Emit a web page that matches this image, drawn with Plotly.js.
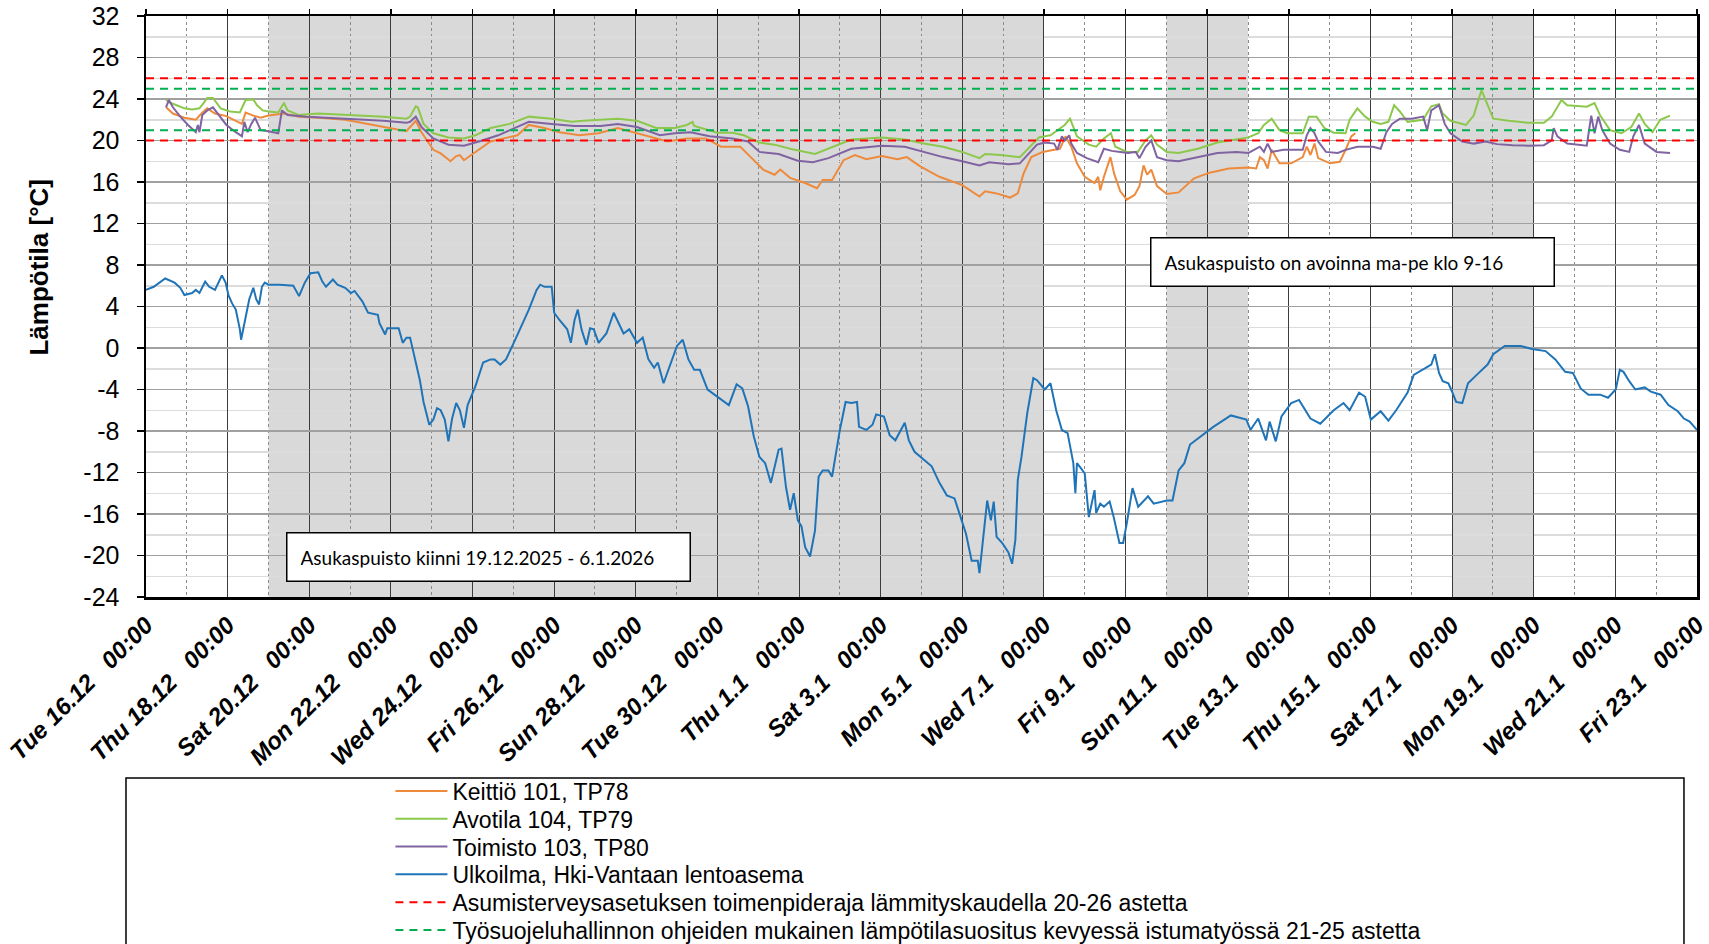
<!DOCTYPE html>
<html>
<head>
<meta charset="utf-8">
<script src="https://cdn.plot.ly/plotly-3.0.1.min.js"></script>
<style>
html,body{margin:0;padding:0;background:#ffffff;}
#chart{width:1709px;height:944px;}
</style>
</head>
<body>
<div id="chart"></div>
<script>
// ---------------- DATA ----------------
const startDate = '2025-12-16';
const endDate = '2026-01-23';
// closed / weekend periods (shaded)
const closedStart = ['2025-12-19', '2026-01-10', '2026-01-17'];
const closedEnd   = ['2026-01-07', '2026-01-12', '2026-01-19'];

const seriesNames = [
  'Keittiö 101, TP78',
  'Avotila 104, TP79',
  'Toimisto 103, TP80',
  'Ulkoilma, Hki-Vantaan lentoasema',
  'Asumisterveysasetuksen toimenpideraja lämmityskaudella 20-26 astetta',
  'Työsuojeluhallinnon ohjeiden mukainen lämpötilasuositus kevyessä istumatyössä 21-25 astetta'
];

// y-axis tick labels (hyphen minus as in the original)
const yTickVals = [-24, -20, -16, -12, -8, -4, 0, 4, 8, 12, 16, 20, 24, 28, 32];
const yTickText = ['-24', '-20', '-16', '-12', '-8', '-4', '0', '4', '8', '12', '16', '20', '24', '28', '32'];

// time = days since Tue 16.12.2025 00:00
const keittioDay = [0.49,0.66,0.94,1.22,1.36,1.5,1.69,1.97,2.25,2.35,2.44,2.63,2.81,3.0,3.38,3.75,4.22,4.88,5.44,5.82,6.38,6.61,6.75,7.04,7.22,7.46,7.6,7.69,7.79,8.02,8.44,9.1,9.38,9.76,10.13,10.62,11.09,11.56,11.93,12.31,12.78,13.25,13.72,14.09,14.56,14.84,15.12,15.4,15.54,15.78,16.15,16.44,16.58,16.81,17.09,17.37,17.65,18.03,18.41,18.64,18.97,19.44,20.0,20.42,20.56,20.84,21.17,21.36,21.5,21.69,21.97,22.25,22.39,22.53,22.67,22.81,23.0,23.24,23.33,23.38,23.47,23.63,23.72,23.87,24.03,24.22,24.34,24.44,24.53,24.63,24.77,25.01,25.3,25.68,26.06,26.53,27.01,27.2,27.29,27.39,27.48,27.58,27.77,28.06,28.34,28.44,28.53,28.63,28.72,29.01,29.25,29.39,29.53,29.63];
const keittioTemp = [23.2,22.6,22.2,22.0,22.6,23.1,22.6,22.35,21.8,21.6,22.7,22.4,22.2,22.4,22.6,22.3,22.2,22.0,21.6,21.3,20.9,21.9,20.8,19.1,18.75,18.0,18.5,18.6,18.1,18.75,19.9,20.5,21.5,21.2,20.8,20.5,20.7,21.2,20.8,20.4,19.9,20.2,20.2,19.4,19.4,18.3,17.2,16.7,17.2,16.4,15.9,15.4,16.2,16.2,18.1,18.6,18.2,18.5,18.2,18.4,17.5,16.5,15.7,14.6,15.1,14.9,14.5,14.9,16.8,18.4,18.9,19.1,19.2,20.4,19.4,17.8,16.5,15.9,16.5,15.2,16.5,18.4,16.8,15.1,14.3,14.75,15.6,17.6,16.7,17.2,15.6,14.85,15.0,16.35,16.9,17.3,17.4,17.3,18.4,18.1,17.3,19.1,17.8,17.8,18.4,19.4,18.6,19.7,18.3,17.8,17.95,19.1,20.4,20.7];

const avotilaDay = [0.49,0.56,0.75,0.94,1.13,1.31,1.41,1.5,1.64,1.74,1.83,2.06,2.3,2.44,2.63,2.72,2.86,3.0,3.24,3.33,3.38,3.47,3.75,4.22,4.88,5.82,6.38,6.47,6.61,6.66,6.8,7.04,7.41,7.79,8.07,8.44,8.91,9.38,9.94,10.43,10.71,11.56,12.03,12.5,12.96,13.25,13.39,13.43,14.0,14.37,14.65,15.03,15.4,15.78,16.39,16.72,17.28,18.03,18.59,19.06,19.53,20.0,20.42,20.56,20.94,21.41,21.59,21.88,22.16,22.35,22.51,22.64,22.81,23.1,23.28,23.47,23.64,23.75,24.03,24.3,24.49,24.63,24.77,25.01,25.3,25.77,26.25,27.01,27.25,27.39,27.58,27.77,27.96,28.34,28.49,28.68,28.87,29.1,29.39,29.49,29.68,29.87,30.06,30.25,30.44,30.58,30.72,30.91,31.29,31.49,31.68,31.77,31.96,32.34,32.53,32.72,32.82,33.01,33.39,33.87,34.25,34.44,34.68,34.82,35.3,35.49,35.63,35.87,36.15,36.39,36.58,36.72,36.91,37.1,37.34];
const avotilaTemp = [23.95,23.7,23.4,23.1,23.0,23.1,23.6,24.1,24.1,23.6,23.1,22.8,22.7,23.9,23.95,23.4,22.9,22.8,22.7,23.3,23.6,22.9,22.45,22.6,22.5,22.3,22.1,22.3,23.3,23.2,21.6,20.7,20.3,20.2,20.5,21.2,21.6,22.3,22.1,21.8,21.9,22.1,21.9,21.2,21.2,21.5,21.8,21.4,20.75,20.75,20.5,19.8,19.6,19.2,18.7,19.2,20.1,20.3,20.1,19.7,19.4,18.9,18.3,18.7,18.6,18.4,19.1,20.3,20.5,21.0,21.5,22.1,20.4,19.6,19.4,20.2,20.7,19.4,18.9,18.9,20.0,20.5,19.6,18.9,18.8,19.2,19.8,20.3,20.7,21.5,22.1,21.0,20.7,20.7,22.3,22.3,21.2,20.75,20.7,22.0,23.1,22.3,21.8,21.6,21.8,23.4,22.8,21.8,22.0,23.3,23.5,22.6,21.9,21.5,22.4,24.85,23.9,22.1,21.9,21.7,21.7,22.3,23.9,23.4,23.25,23.6,22.4,21.0,20.7,21.3,22.6,21.6,20.8,22.0,22.4];

const toimistoDay = [0.49,0.56,0.66,0.84,1.03,1.22,1.27,1.31,1.38,1.5,1.64,1.78,1.97,2.2,2.35,2.41,2.49,2.58,2.67,2.81,3.0,3.24,3.33,3.47,3.94,4.88,5.82,6.38,6.47,6.61,6.75,7.04,7.41,7.79,8.16,8.63,9.38,9.94,10.5,11.14,11.56,12.03,12.59,12.96,13.34,13.81,14.37,14.75,15.03,15.5,15.97,16.34,16.72,17.28,18.03,18.59,19.06,19.53,20.0,20.42,20.66,21.13,21.41,21.59,21.83,22.02,22.25,22.33,22.44,22.51,22.62,22.67,22.81,23.05,23.33,23.47,23.66,23.87,24.06,24.25,24.34,24.49,24.63,24.77,25.01,25.3,25.77,26.25,26.72,27.01,27.29,27.39,27.48,27.58,27.87,28.34,28.44,28.53,28.63,28.72,28.91,29.2,29.39,29.68,30.06,30.25,30.39,30.53,30.72,31.01,31.29,31.39,31.49,31.68,31.82,31.96,32.25,32.53,32.82,33.1,33.48,33.87,34.25,34.44,34.49,34.58,34.82,35.3,35.41,35.49,35.58,35.68,35.87,36.11,36.34,36.44,36.58,36.72,37.01,37.34];
const toimistoTemp = [23.2,23.9,23.2,22.3,21.5,20.8,21.5,20.8,22.45,22.9,23.2,22.45,21.5,20.8,20.4,21.8,20.8,21.6,22.2,21.0,20.9,20.7,22.9,22.45,22.3,22.1,21.9,21.7,21.8,22.3,21.3,20.2,19.6,19.5,19.9,20.5,21.8,21.6,21.4,21.4,21.6,21.3,20.5,20.7,20.8,20.4,20.2,19.9,18.9,18.7,18.05,17.9,18.3,19.2,19.5,19.4,18.9,18.4,18.0,17.6,17.9,17.7,17.8,18.6,19.6,19.8,19.7,19.1,20.4,20.0,20.5,19.7,18.8,18.3,17.9,19.2,19.0,18.9,18.8,18.9,18.3,19.4,20.0,18.4,18.1,18.0,18.4,18.8,18.9,18.8,19.4,18.9,19.7,18.9,19.1,19.1,20.5,21.2,20.7,19.9,18.9,18.8,19.1,19.4,19.4,19.2,20.8,21.6,22.1,22.1,22.3,21.0,22.9,23.4,21.6,20.7,19.9,19.7,19.9,19.65,19.55,19.5,19.55,20.0,21.2,20.4,19.7,19.5,22.4,20.7,22.3,21.0,19.7,19.1,18.9,20.4,21.5,19.7,18.9,18.8];

const ulkoilmaDay = [0,0.19,0.47,0.7,0.84,0.94,1.13,1.22,1.31,1.45,1.55,1.69,1.86,1.95,2.02,2.11,2.2,2.3,2.33,2.39,2.53,2.63,2.7,2.77,2.84,2.91,3.0,3.28,3.61,3.75,3.89,4.03,4.22,4.32,4.41,4.58,4.69,4.88,5.02,5.11,5.3,5.44,5.68,5.72,5.86,5.91,6.19,6.29,6.38,6.47,6.61,6.71,6.8,6.94,7.04,7.13,7.22,7.32,7.41,7.5,7.6,7.69,7.79,7.88,8.07,8.26,8.44,8.54,8.68,8.82,9.01,9.38,9.57,9.66,9.76,9.94,10.0,10.13,10.32,10.41,10.5,10.58,10.67,10.79,10.88,10.97,11.09,11.28,11.46,11.7,11.84,12.03,12.17,12.31,12.45,12.54,12.68,12.87,13.01,13.15,13.29,13.43,13.57,13.76,13.99,14.28,14.47,14.61,14.75,14.89,15.03,15.17,15.31,15.4,15.5,15.57,15.68,15.78,15.87,15.97,16.06,16.15,16.27,16.39,16.48,16.58,16.72,16.81,17.0,17.14,17.28,17.42,17.47,17.65,17.8,17.89,18.08,18.22,18.36,18.59,18.69,18.83,19.02,19.25,19.44,19.62,19.81,19.95,20.09,20.23,20.38,20.42,20.47,20.61,20.7,20.77,20.84,20.98,21.13,21.22,21.3,21.36,21.45,21.59,21.74,21.83,22.02,22.16,22.3,22.44,22.58,22.72,22.77,22.81,22.91,23.0,23.1,23.24,23.28,23.38,23.47,23.61,23.71,23.85,23.94,24.03,24.17,24.31,24.55,24.69,25.01,25.15,25.3,25.44,25.58,25.87,26.15,26.58,26.96,27.06,27.25,27.44,27.53,27.68,27.82,28.06,28.25,28.53,28.77,29.1,29.34,29.49,29.72,29.87,30.01,30.25,30.44,30.63,30.91,31.06,31.39,31.49,31.58,31.68,31.77,31.91,32.01,32.1,32.25,32.39,32.68,32.87,33.01,33.29,33.68,33.96,34.29,34.53,34.77,34.96,35.15,35.34,35.63,35.82,36.01,36.11,36.2,36.34,36.49,36.72,36.87,37.11,37.3,37.53,37.68,37.82,38.0];
const ulkoilmaTemp = [5.6,5.9,6.7,6.3,5.8,5.1,5.3,5.6,5.3,6.4,5.9,5.6,7.0,6.3,5.1,4.3,3.7,1.8,0.8,1.9,4.7,5.8,4.7,4.2,5.9,6.3,6.1,6.1,6.0,5.0,6.3,7.2,7.3,6.4,5.9,6.6,6.1,5.8,5.3,5.5,4.5,3.4,3.2,2.4,1.3,1.9,1.9,0.5,1.0,1.0,-1.4,-3.1,-5.2,-7.4,-6.9,-5.8,-6.0,-6.9,-9.0,-6.8,-5.3,-6.0,-7.7,-5.5,-3.7,-1.4,-1.1,-1.1,-1.6,-1.1,0.5,3.7,5.6,6.1,5.9,5.9,3.4,2.7,1.8,0.5,2.7,3.7,1.8,0.3,1.9,1.8,0.5,1.4,3.4,1.4,1.8,0.5,1.0,-1.1,-1.9,-1.4,-3.4,-1.4,0.2,0.8,-1.1,-2.1,-2.1,-4.0,-4.7,-5.5,-3.5,-3.9,-5.6,-8.5,-10.5,-11.1,-13.0,-11.6,-9.8,-9.7,-13.4,-15.6,-14.0,-16.6,-17.2,-19.2,-20.1,-17.6,-12.4,-11.8,-11.8,-12.4,-7.9,-5.2,-5.3,-5.2,-7.6,-7.9,-7.4,-6.4,-6.6,-8.4,-8.9,-7.2,-8.9,-10.0,-10.6,-11.4,-13.0,-14.2,-14.5,-16.1,-17.9,-20.5,-20.5,-21.7,-19.8,-14.7,-16.6,-14.8,-18.2,-18.8,-19.7,-20.8,-18.5,-12.7,-10.5,-6.3,-2.9,-3.1,-4.0,-3.4,-6.0,-7.9,-8.2,-11.1,-14.0,-11.1,-11.6,-12.1,-16.3,-13.7,-15.9,-15.0,-15.3,-14.8,-16.3,-18.8,-18.8,-16.9,-13.5,-15.3,-14.3,-15.0,-14.7,-14.7,-11.8,-11.1,-9.3,-8.4,-7.6,-6.5,-6.9,-7.9,-6.8,-8.9,-7.1,-9.0,-6.6,-5.3,-5.0,-6.8,-7.3,-6.0,-5.3,-6.0,-4.3,-4.7,-6.9,-6.1,-7.0,-6.0,-4.3,-2.6,-1.8,-1.6,-0.6,-2.4,-3.2,-3.4,-4.3,-5.2,-5.3,-3.4,-2.3,-1.6,-0.6,0.2,0.2,-0.1,-0.3,-1.1,-2.3,-2.4,-3.9,-4.5,-4.5,-4.8,-4.0,-2.1,-2.3,-3.2,-4.0,-3.8,-4.2,-4.5,-5.5,-6.1,-6.8,-7.1,-7.9];

const limitHousing = [20, 26];   // Asumisterveysasetus
const limitWork = [21, 25];      // Työsuojeluhallinto

const closedText = 'Asukaspuisto kiinni 19.12.2025 - 6.1.2026';
const openText = 'Asukaspuisto on avoinna ma-pe klo 9-16';
const yTitle = 'Lämpötila [°C]';

// ---------------- HELPERS ----------------
const t0 = Date.UTC(2025, 11, 16);
function toDate(d) {
  const ms = t0 + Math.round(d * 1440) * 60000;
  return new Date(ms).toISOString().slice(0, 16).replace('T', ' ');
}
function limitTrace(vals) {
  const x = [], y = [];
  vals.forEach((v, i) => {
    if (i > 0) { x.push(null); y.push(null); }
    x.push(startDate, endDate); y.push(v, v);
  });
  return {x, y};
}

const FONT = 'Liberation Sans, Arial, sans-serif';
const colors = ['#EE8A3C', '#8CC84B', '#8064A2', '#1F74B8', '#FF0000', '#00B050'];

const lineData = [
  [keittioDay, keittioTemp],
  [avotilaDay, avotilaTemp],
  [toimistoDay, toimistoTemp],
  [ulkoilmaDay, ulkoilmaTemp]
];
const legendIds = ['legend', 'legend2', 'legend3', 'legend4', 'legend5', 'legend6'];

const traces = lineData.map((s, i) => ({
  type: 'scatter', mode: 'lines', name: seriesNames[i],
  x: s[0].map(toDate), y: s[1],
  line: {color: colors[i], width: 2},
  legend: legendIds[i], hoverinfo: 'skip'
}));
const red = limitTrace(limitHousing), grn = limitTrace(limitWork);
traces.push({type: 'scatter', mode: 'lines', name: seriesNames[4], x: red.x, y: red.y,
  line: {color: colors[4], width: 2, dash: '8px,6px'}, legend: legendIds[4], hoverinfo: 'skip'});
traces.push({type: 'scatter', mode: 'lines', name: seriesNames[5], x: grn.x, y: grn.y,
  line: {color: colors[5], width: 2, dash: '8px,6px'}, legend: legendIds[5], hoverinfo: 'skip'});
// helper trace so that the top tick axis is drawn
traces.push({type: 'scatter', mode: 'lines', x: [startDate], y: [null], xaxis: 'x2', yaxis: 'y',
  showlegend: false, hoverinfo: 'skip'});

const shapes = closedStart.map((s, i) => ({
  type: 'rect', xref: 'x', yref: 'paper', x0: s, x1: closedEnd[i], y0: 0, y1: 1,
  fillcolor: '#D9D9D9', line: {width: 0}, layer: 'below'
}));
// legend frame
shapes.push({type: 'rect', xref: 'paper', yref: 'paper', x0: -0.0129, x1: 0.9916, y0: -0.75, y1: -0.3115,
  line: {color: '#000', width: 1.5}, fillcolor: 'rgba(0,0,0,0)', layer: 'above'});

const DAY = 86400000;
const rangeEnd = '2026-01-23 00:01';
const boxFont = {family: 'Lato, sans-serif', size: 19, color: '#000'};
const layout = {
  width: 1709, height: 944,
  margin: {l: 146, r: 12, t: 16, b: 347, pad: 0, autoexpand: false},
  paper_bgcolor: '#ffffff', plot_bgcolor: '#ffffff',
  showlegend: true, hovermode: false,
  xaxis: {
    type: 'date', range: [startDate, rangeEnd], tick0: startDate, dtick: 2 * DAY,
    tickformat: '%a %-d.%-m\u00a0\u00a0\u00a0%H:%M', tickangle: -45,
    tickfont: {family: FONT, size: 24, weight: 'bold', style: 'italic', color: '#000'},
    ticks: '', showgrid: true, gridcolor: '#3C3C3C', gridwidth: 1,
    minor: {dtick: DAY, tick0: startDate, showgrid: true, gridcolor: '#8A8A8A', griddash: 'dot', gridwidth: 1},
    showline: true, linecolor: '#000', linewidth: 2.5, mirror: true,
    zeroline: false, automargin: false, ticklabelstandoff: 2, ticklabeloverflow: 'allow'
  },
  xaxis2: {
    type: 'date', overlaying: 'x', matches: 'x', side: 'top', anchor: 'y',
    range: [startDate, rangeEnd], tick0: startDate, dtick: 2 * DAY,
    ticks: 'outside', ticklen: 6, tickwidth: 1.5, tickcolor: '#000',
    showticklabels: false, showgrid: false, showline: false, zeroline: false
  },
  yaxis: {
    range: [-24, 32], tickmode: 'array', tickvals: yTickVals, ticktext: yTickText,
    ticks: 'outside', ticklen: 7, tickwidth: 1.5, tickcolor: '#000',
    tickfont: {family: FONT, size: 25, color: '#000'},
    showgrid: true, gridcolor: '#A0A0A0', gridwidth: 1.5,
    minor: {dtick: 2, tick0: 0, showgrid: true, gridcolor: '#DCDCDC', gridwidth: 1.5},
    showline: true, linecolor: '#000', linewidth: 2.5, mirror: true,
    zeroline: false, automargin: false, ticklabelstandoff: 12
  },
  shapes: shapes,
  annotations: [
    {text: yTitle, xref: 'paper', yref: 'paper', x: -0.0693, y: 0.568, xanchor: 'center', yanchor: 'middle',
     textangle: -90, showarrow: false, font: {family: FONT, size: 26, weight: 'bold', color: '#000'}},
    {text: closedText, xref: 'paper', yref: 'paper', x: 0.0903, y: 0.1119, xanchor: 'left', yanchor: 'top',
     width: 376, height: 21, align: 'left', valign: 'middle', borderpad: 13, borderwidth: 1.5,
     bordercolor: '#000', bgcolor: '#fff', showarrow: false, font: boxFont},
    {text: openText, xref: 'paper', yref: 'paper', x: 0.6476, y: 0.6196, xanchor: 'left', yanchor: 'top',
     width: 376, height: 21, align: 'left', valign: 'middle', borderpad: 13, borderwidth: 1.5,
     bordercolor: '#000', bgcolor: '#fff', showarrow: false, font: boxFont}
  ]
};
const legendTop = (597 - 791) / 581, legendStep = 27.8 / 581;
legendIds.forEach((id, i) => {
  layout[id] = {
    x: 0.1576, xanchor: 'left', y: legendTop - i * legendStep, yanchor: 'middle',
    bgcolor: 'rgba(0,0,0,0)', borderwidth: 0, itemwidth: 52,
    font: {family: FONT, size: 23, color: '#000'}
  };
});

Plotly.newPlot('chart', traces, layout, {displayModeBar: false, staticPlot: true});
</script>
</body>
</html>
